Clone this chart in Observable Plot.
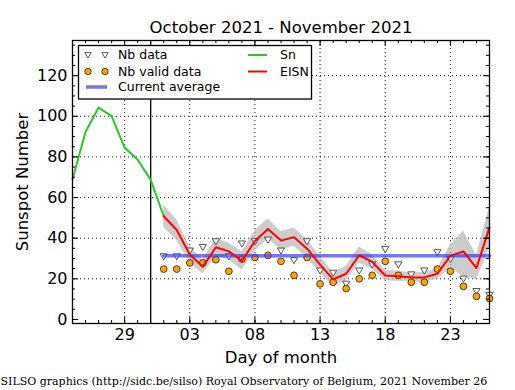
<!DOCTYPE html>
<html>
<head>
<meta charset="utf-8">
<script src="https://cdn.jsdelivr.net/npm/d3@7"></script>
<script src="https://cdn.jsdelivr.net/npm/@observablehq/plot@0.6"></script>
<style>
  html, body { margin: 0; padding: 0; background: #fff; }
  #chart svg { display: block; }
</style>
</head>
<body>
<div id="chart"></div>
<script>
// ---- Data ----
const snDays = ["2021-10-25","2021-10-26","2021-10-27","2021-10-28","2021-10-29","2021-10-30","2021-10-31","2021-11-01"];
const snValues = [69, 92.3, 104.3, 100.1, 84.6, 78.6, 68.7, 50.8];

const novDays = ["2021-11-01","2021-11-02","2021-11-03","2021-11-04","2021-11-05","2021-11-06","2021-11-07","2021-11-08","2021-11-09","2021-11-10","2021-11-11","2021-11-12","2021-11-13","2021-11-14","2021-11-15","2021-11-16","2021-11-17","2021-11-18","2021-11-19","2021-11-20","2021-11-21","2021-11-22","2021-11-23","2021-11-24","2021-11-25","2021-11-26"];
const eisnValues = [50.8, 44, 32, 25.9, 35.5, 33.5, 28.8, 38.6, 44.5, 38.8, 40.5, 34.8, 27, 19.7, 22.5, 31.6, 28.3, 21.6, 21.3, 20.7, 20.7, 22.5, 31.3, 33.5, 25.3, 45.3];
const eisnLow  = [45.3, 39, 28, 22.4, 31, 29.5, 24.3, 33.6, 39.5, 34.3, 36, 30.3, 23, 16.2, 19, 27.6, 24.8, 19.1, 18.8, 18.7, 18.2, 20, 25.5, 21, 19.5, 35];
const eisnHigh = [56.3, 49, 36, 29.4, 40, 37.5, 33.3, 43.6, 49.5, 43.3, 45, 39.3, 31, 23.2, 26, 35.6, 31.8, 24.1, 23.8, 22.7, 23.2, 25, 36.8, 43.5, 31.5, 55.5];
const nbData  = [31.0, 31.0, 33.8, 35.6, 38.4, 31.0, 37.3, 38.4, 39.2, 33.8, 29.1, 38.4, 24.0, 22.9, 17.5, 24.0, 27.0, 34.6, 27.0, 22.1, 24.0, 33.0, 29.7, 20.0, 13.9, 12.0];
const nbValid = [24.8, 24.8, 27.8, 27.8, 29.4, 23.7, 29.7, 30.5, 31.5, 28.6, 21.7, 30.5, 17.5, 18.3, 15.2, 20.0, 21.7, 28.6, 21.7, 18.3, 18.3, 24.8, 23.7, 16.3, 11.4, 10.3];
const currentAverage = 31.4;
const averageSpan = ["2021-11-01", "2021-11-26"];
const markerDay = "2021-10-31";

const xDomain = ["2021-10-25", "2021-11-26"];
const yDomain = [-2, 137.3];
const xTickLabels = ["2021-10-29","2021-11-03","2021-11-08","2021-11-13","2021-11-18","2021-11-23"];
const yTickLabels = [0, 20, 40, 60, 80, 100, 120];
const yMinorTicks = d3.range(0, 136, 5);

const titleText = "October 2021 - November 2021";
const xLabel = "Day of month";
const yLabel = "Sunspot Number";
const captionText = "SILSO graphics (http://sidc.be/silso) Royal Observatory of Belgium, 2021 November 26";

// ---- Build tables ----
const D = s => new Date(s + "T00:00:00Z");
const sn = snDays.map((d, i) => ({date: D(d), value: snValues[i]}));
const nov = novDays.map((d, i) => ({date: D(d), eisn: eisnValues[i], low: eisnLow[i], high: eisnHigh[i], nb: nbData[i], valid: nbValid[i]}));
const avg = averageSpan.map(d => ({date: D(d), value: currentAverage}));
const xMajor = xTickLabels.map(D);
const xMinor = d3.utcDay.range(D(xDomain[0]), d3.utcDay.offset(D(xDomain[1]), 1));

const W = 515, H = 390, mL = 72, mR = 26, mT = 40, mB = 67;
const plotW = W - mL - mR, plotH = H - mT - mB;

const triDown = {
  draw(ctx, size) {
    const r = Math.sqrt(size / Math.PI);
    ctx.moveTo(-r, -r * 0.75);
    ctx.lineTo(r, -r * 0.75);
    ctx.lineTo(0, r * 0.95);
    ctx.closePath();
  }
};

const grid = {stroke: "#000", strokeOpacity: 0.9, strokeDasharray: "1,3", strokeWidth: 1};

const chart = Plot.plot({
  width: W, height: H,
  marginLeft: mL, marginRight: mR, marginTop: mT, marginBottom: mB,
  style: {fontFamily: "DejaVu Sans", fontSize: "16px", color: "#000", background: "#fff"},
  x: {type: "utc", domain: xDomain.map(D)},
  y: {domain: yDomain},
  marks: [
    Plot.gridX(xMajor, grid),
    Plot.gridY(yTickLabels.filter(v => v > 0), grid),
    Plot.areaY(nov, {x: "date", y1: "low", y2: "high", fill: "#bbbbbb", fillOpacity: 0.75}),
    Plot.ruleX([D(markerDay)], {stroke: "#000", strokeWidth: 1.3}),
    Plot.dot(nov, {x: "date", y: "nb", symbol: triDown, r: 3.6, fill: "#fff", stroke: "#444", strokeWidth: 0.9}),
    Plot.dot(nov, {x: "date", y: "valid", r: 3.4, fill: "#ffa500", stroke: "#222", strokeWidth: 0.8}),
    Plot.lineY(avg, {x: "date", y: "value", stroke: "#3a3aff", strokeOpacity: 0.7, strokeWidth: 3.5}),
    Plot.lineY(sn, {x: "date", y: "value", stroke: "#2fc52f", strokeWidth: 2}),
    Plot.lineY(nov, {x: "date", y: "eisn", stroke: "#ff0000", strokeWidth: 2}),
    // inward ticks
    Plot.tickX(xMinor, {x: d => d, insetTop: plotH - 3, stroke: "#000"}),
    Plot.tickX(xMinor, {x: d => d, insetBottom: plotH - 3, stroke: "#000"}),
    Plot.tickX(xMajor, {x: d => d, insetTop: plotH - 6, stroke: "#000"}),
    Plot.tickX(xMajor, {x: d => d, insetBottom: plotH - 6, stroke: "#000"}),
    Plot.tickY(yMinorTicks, {y: d => d, insetRight: plotW - 3, stroke: "#000"}),
    Plot.tickY(yMinorTicks, {y: d => d, insetLeft: plotW - 3, stroke: "#000"}),
    Plot.tickY(yTickLabels, {y: d => d, insetRight: plotW - 6, stroke: "#000"}),
    Plot.tickY(yTickLabels, {y: d => d, insetLeft: plotW - 6, stroke: "#000"}),
    Plot.frame({stroke: "#000", strokeWidth: 1.3}),
    Plot.axisX(xMajor, {anchor: "bottom", tickSize: 0, tickPadding: 5, tickFormat: d3.utcFormat("%d"), fontSize: 16, label: null}),
    Plot.axisY(yTickLabels, {anchor: "left", tickSize: 0, tickPadding: 5, fontSize: 16, label: null}),
    Plot.text([titleText], {text: d => d, frameAnchor: "top", dy: -13, lineAnchor: "middle", fontSize: 16.5}),
    Plot.text([xLabel], {text: d => d, frameAnchor: "bottom", dy: 34, lineAnchor: "middle", fontSize: 16.5}),
    Plot.text([yLabel], {text: d => d, frameAnchor: "left", dx: -50, rotate: -90, textAnchor: "middle", lineAnchor: "middle", fontSize: 16.5}),
    Plot.text([captionText], {text: d => d, frameAnchor: "bottom-left", dx: -72, dy: 58, textAnchor: "start", lineAnchor: "middle", fontSize: 11, fontFamily: "DejaVu Serif"})
  ]
});

document.getElementById("chart").appendChild(chart);

// ---- Legend (overlay in the SVG) ----
const svg = d3.select(chart);
const lg = svg.append("g").attr("font-family", "DejaVu Sans").attr("font-size", 12.5).attr("text-anchor", "start");
lg.append("rect").attr("x", 78.5).attr("y", 45.5).attr("width", 233).attr("height", 53.5)
  .attr("fill", "#fff").attr("stroke", "#000").attr("stroke-width", 1.3);
const rows = [55, 71.5, 87];
const triPath = d3.path(); triDown.draw(triPath, 3.2 * 3.2 * Math.PI);
[88, 105].forEach(x => {
  lg.append("path").attr("d", triPath.toString()).attr("transform", `translate(${x},${rows[0]})`)
    .attr("fill", "#fff").attr("stroke", "#444").attr("stroke-width", 0.9);
  lg.append("circle").attr("cx", x).attr("cy", rows[1]).attr("r", 3.2)
    .attr("fill", "#ffa500").attr("stroke", "#222").attr("stroke-width", 0.8);
});
lg.append("line").attr("x1", 86).attr("x2", 107).attr("y1", rows[2]).attr("y2", rows[2])
  .attr("stroke", "#3a3aff").attr("stroke-opacity", 0.7).attr("stroke-width", 3.5);
lg.append("line").attr("x1", 248).attr("x2", 267).attr("y1", rows[0]).attr("y2", rows[0])
  .attr("stroke", "#2fc52f").attr("stroke-width", 2);
lg.append("line").attr("x1", 248).attr("x2", 267).attr("y1", rows[1]).attr("y2", rows[1])
  .attr("stroke", "#ff0000").attr("stroke-width", 2);
const labels = [["Nb data", 118, rows[0]], ["Nb valid data", 118, rows[1]], ["Current average", 118, rows[2]], ["Sn", 280, rows[0]], ["EISN", 280, rows[1]]];
labels.forEach(([t, x, y]) => lg.append("text").attr("x", x).attr("y", y).attr("dy", "0.35em").attr("fill", "#000").attr("text-anchor", "start").text(t));
</script>
</body>
</html>
